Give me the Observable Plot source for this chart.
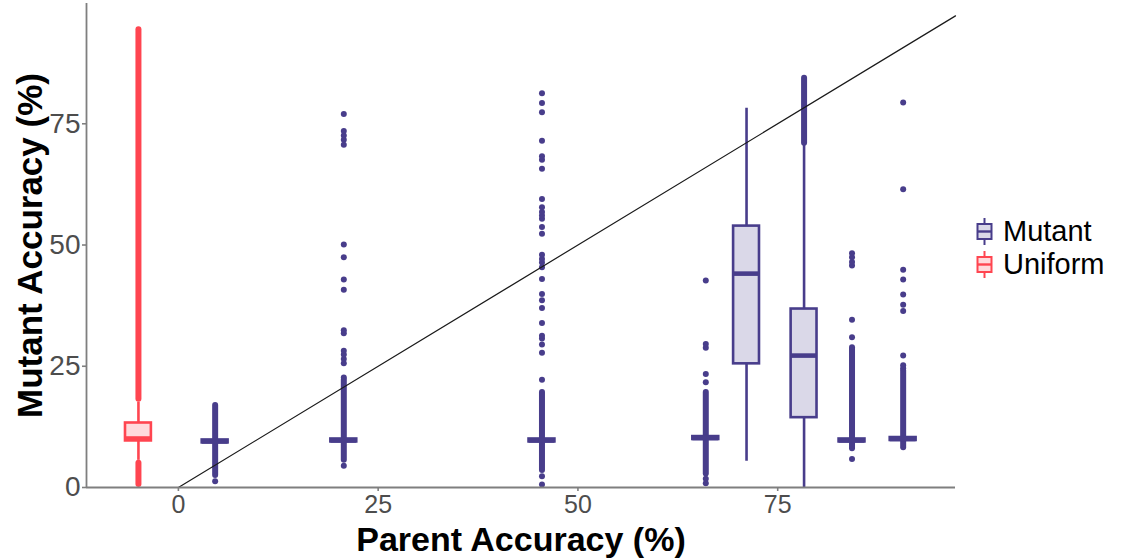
<!DOCTYPE html>
<html><head><meta charset="utf-8">
<script src="https://cdn.jsdelivr.net/npm/d3@7"></script>
<script src="https://cdn.jsdelivr.net/npm/@observablehq/plot@0.6"></script>
<style>
body{margin:0;background:#fff;font-family:"Liberation Sans",Arial,sans-serif;}
#wrap{position:relative;width:1132px;height:560px;}
#legend{position:absolute;left:976px;top:215px;}
.item{display:flex;align-items:center;height:33px;font-size:29px;color:#000;line-height:33px;}
.item svg{margin-right:10px;}
</style></head><body><div id="wrap"></div>
<script>
// ---------- data ----------
const groupNames = ["Mutant", "Uniform"];
const groupColors = ["#483D8B", "#FF4550"];
const groupFills = ["#DAD8E8", "#FFDADC"];
const xTicks = [0, 25, 50, 75];
const yTicks = [0, 25, 50, 75];
const xTitle = "Parent Accuracy (%)";
const yTitle = "Mutant Accuracy (%)";

// Mutant boxplot summaries (parent accuracy position, quartiles, whiskers)
const mutantX      = [4.6, 20.7, 45.5, 66.0, 71.1, 78.3, 84.3, 90.7];
const mutantQ1     = [9.2, 9.4, 9.4, 9.9, 25.5, 14.4, 9.4, 9.7];
const mutantMedian = [9.5, 9.7, 9.7, 10.2, 44.1, 27.2, 9.7, 10.0];
const mutantQ3     = [9.8, 10.0, 10.0, 10.5, 53.9, 36.8, 10.0, 10.3];
const mutantLow    = [8.0, 8.0, 8.0, 8.6, 5.4, 0.0, 8.0, 8.4];
const mutantHigh   = [11.0, 11.3, 11.3, 11.8, 78.2, 70.5, 11.3, 11.6];
// dense runs of outliers (bottom, top) per mutant group
const mutantDenseLow  = [2.5, 5.6, 3.5, 2.8, null, 71.0, 8.0, 8.2];
const mutantDenseHigh = [16.9, 22.1, 19.6, 19.6, null, 84.4, 28.8, 24.0];
// individual outliers per mutant group
const mutantOutliers = [
  [1.3],
  [4.5, 22.7, 25.6, 26.5, 27.4, 28.2, 31.8, 32.4, 40.8, 42.9, 47.5, 50.1, 70.7, 71.7, 72.6, 73.5, 77.0],
  [0.6, 2.3, 22.2, 27.8, 29.5, 30.7, 31.3, 33.9, 37.0, 38.6, 39.9, 43.0, 45.4, 46.4, 47.1, 48.0, 52.3, 53.7, 55.4, 56.1, 56.8, 57.8, 59.5, 65.7, 67.6, 68.3, 71.5, 77.4, 79.3, 81.3],
  [0.9, 1.8, 21.7, 23.4, 28.8, 29.6, 42.7],
  [],
  [],
  [5.9, 31.0, 34.6, 45.8, 46.5, 47.5, 48.3],
  [24.6, 25.2, 27.2, 36.4, 37.7, 39.8, 42.9, 44.9, 61.5, 79.4]
];

// Uniform boxplot summary
const uniformX = [-5.0];
const uniformQ1 = [9.6];
const uniformMedian = [10.1];
const uniformQ3 = [13.3];
const uniformLow = [5.6];
const uniformHigh = [17.6];
const uniformDenseLow = [0.6, 18.2];
const uniformDenseHigh = [5.0, 94.4];

// ---------- build tables ----------
const BOX_HALF = 1.62; // half box width in x units
const boxes = [];
mutantX.forEach((x, i) => boxes.push({g: 0, x, q1: mutantQ1[i], med: mutantMedian[i], q3: mutantQ3[i], lo: mutantLow[i], hi: mutantHigh[i]}));
uniformX.forEach((x, i) => boxes.push({g: 1, x, q1: uniformQ1[i], med: uniformMedian[i], q3: uniformQ3[i], lo: uniformLow[i], hi: uniformHigh[i]}));

const dense = [];
mutantX.forEach((x, i) => { if (mutantDenseLow[i] != null) dense.push({g: 0, x, y1: mutantDenseLow[i], y2: mutantDenseHigh[i]}); });
uniformDenseLow.forEach((lo, i) => dense.push({g: 1, x: uniformX[0], y1: lo, y2: uniformDenseHigh[i]}));

const points = [];
mutantX.forEach((x, i) => mutantOutliers[i].forEach(y => points.push({g: 0, x, y})));

const xDomain = [-11.5, 97.25];
const yDomain = [0, 99.8];
const diag = [{v: 0}, {v: xDomain[1]}];

const col = d => groupColors[d.g];
const fil = d => groupFills[d.g];

const chart = Plot.plot({
  width: 1132, height: 560,
  marginLeft: 86, marginRight: 177, marginTop: 3, marginBottom: 73,
  x: {domain: xDomain, label: null},
  y: {domain: yDomain, label: null},
  style: {fontFamily: '"Liberation Sans", Arial, sans-serif', background: "white"},
  marks: [
    Plot.ruleX(boxes, {x: "x", y1: "lo", y2: "hi", stroke: col, strokeWidth: 2.6}),
    Plot.ruleX(dense, {x: "x", y1: "y1", y2: "y2", stroke: col, strokeWidth: 6, strokeLinecap: "round"}),
    Plot.dot(points, {x: "x", y: "y", r: 3, fill: col, stroke: null}),
    Plot.rect(boxes, {x1: d => d.x - BOX_HALF, x2: d => d.x + BOX_HALF, y1: "q1", y2: "q3", fill: fil, stroke: col, strokeWidth: 2.6}),
    Plot.ruleY(boxes, {y: "med", x1: d => d.x - BOX_HALF, x2: d => d.x + BOX_HALF, stroke: col, strokeWidth: 4.6}),
    Plot.line(diag, {x: "v", y: "v", stroke: "#1a1a1a", strokeWidth: 1.2}),
    Plot.ruleY([yDomain[0]], {stroke: "#7f7f7f", strokeWidth: 1.8}),
    Plot.ruleX([xDomain[0]], {stroke: "#7f7f7f", strokeWidth: 1.8}),
    Plot.axisX({ticks: xTicks, tickSize: 4, tickPadding: 4, fontSize: 25, color: "#4D4D4D", fill: "#4D4D4D", stroke: "#7f7f7f", strokeWidth: 1.6, label: null}),
    Plot.axisY({ticks: yTicks, tickSize: 4, tickPadding: 2, fontSize: 28, color: "#4D4D4D", fill: "#4D4D4D", stroke: "#7f7f7f", strokeWidth: 1.6, label: null}),
    Plot.text([xTitle], {text: d => d, frameAnchor: "bottom", lineAnchor: "middle", textAnchor: "middle", dy: 53, fontSize: 34, fontWeight: "bold", fill: "#000"}),
    Plot.text([yTitle], {text: d => d, frameAnchor: "left", lineAnchor: "middle", textAnchor: "middle", dx: -56, rotate: -90, fontSize: 35, fontWeight: "bold", fill: "#000"})
  ]
});

const wrap = document.getElementById("wrap");
wrap.appendChild(chart);

// legend
const legend = document.createElement("div");
legend.id = "legend";
groupNames.forEach((name, i) => {
  const item = document.createElement("div");
  item.className = "item";
  item.innerHTML = `<svg width="17" height="29" viewBox="0 0 17 29">
    <line x1="8.5" y1="1" x2="8.5" y2="28" stroke="${groupColors[i]}" stroke-width="2"/>
    <rect x="1.5" y="7" width="14" height="15" fill="${groupFills[i]}" stroke="${groupColors[i]}" stroke-width="2"/>
    <line x1="1.5" y1="14.5" x2="15.5" y2="14.5" stroke="${groupColors[i]}" stroke-width="2.4"/>
  </svg><span>${name}</span>`;
  legend.appendChild(item);
});
wrap.appendChild(legend);
</script></body></html>
